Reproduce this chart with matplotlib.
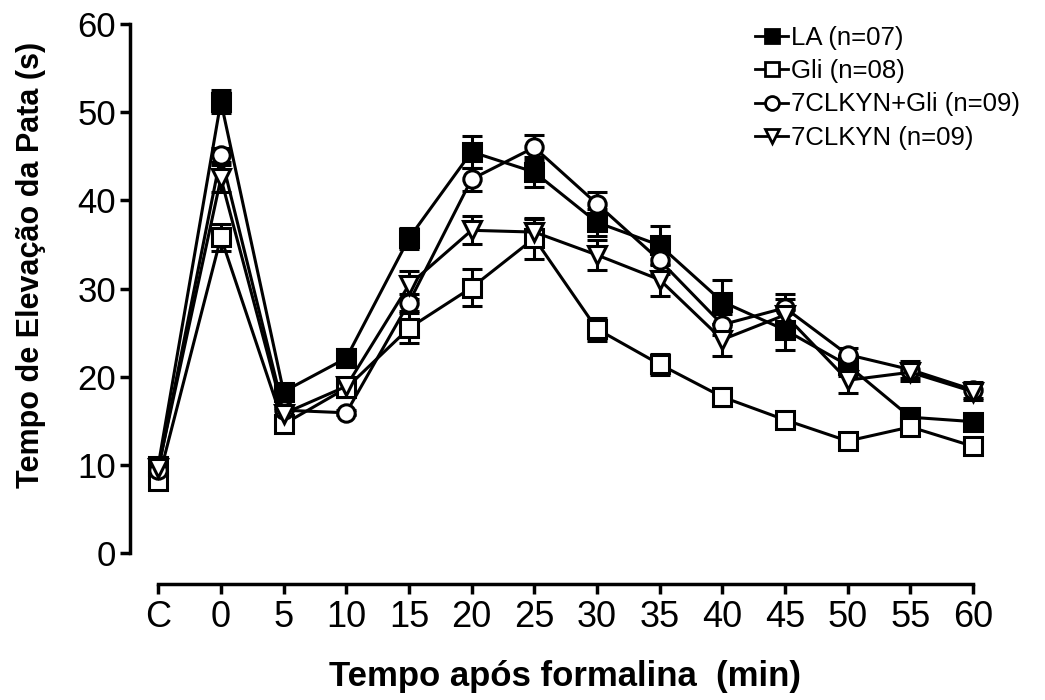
# Tempo de elevação da pata após formalina - 4 grupos, média ± EPM
import matplotlib
matplotlib.use('Agg')
from matplotlib import pyplot as plt
from matplotlib.lines import Line2D

plt.rcParams['font.family'] = ['Liberation Sans', 'DejaVu Sans']

# eixo x: C (controle) e tempos em minutos
tick_labels = ['C', '0', '5', '10', '15', '20', '25', '30', '35', '40', '45', '50', '55', '60']

la_mean = [9.9, 51.2, 18.3, 22.1, 35.7, 45.5, 43.2, 37.5, 34.9, 28.5, 25.3, 21.3, 15.4, 14.9]
la_sem = [0.9, 1.3, 0.8, 1.0, 1.2, 1.8, 1.7, 1.5, 2.2, 2.5, 2.3, 1.2, 0.6, 0.6]

gli_mean = [8.2, 35.8, 14.6, 18.7, 25.5, 30.1, 35.7, 25.4, 21.4, 17.7, 15.1, 12.7, 14.3, 12.1]
gli_sem = [0.7, 1.5, 0.5, 1.0, 1.7, 2.1, 2.3, 1.3, 1.2, 1.0, 0.5, 0.6, 0.8, 0.6]

kyn_gli_mean = [9.4, 45.1, 16.2, 15.9, 28.4, 42.4, 46.0, 39.6, 33.2, 25.9, 27.8, 22.5, 20.8, 18.5]
kyn_gli_sem = [0.6, 0.8, 0.5, 0.3, 1.0, 1.3, 1.4, 1.4, 1.5, 1.2, 1.6, 0.8, 1.0, 0.9]

kyn_mean = [9.6, 42.5, 15.8, 18.9, 30.4, 36.6, 36.4, 33.8, 31.0, 24.2, 27.0, 19.6, 20.5, 18.3]
kyn_sem = [0.6, 1.5, 0.6, 0.8, 1.6, 1.6, 1.5, 1.7, 1.8, 1.8, 1.8, 1.5, 1.0, 1.0]

x = list(range(len(tick_labels)))

fig = plt.figure(figsize=(10.45, 7), dpi=100)
ax = fig.add_axes([130 / 1045, 147 / 700, 870 / 1045, 529 / 700])

series = [
    (la_mean, la_sem, 's', 'black', 'LA (n=07)'),
    (gli_mean, gli_sem, 's', 'white', 'Gli (n=08)'),
    (kyn_gli_mean, kyn_gli_sem, 'o', 'white', '7CLKYN+Gli (n=09)'),
    (kyn_mean, kyn_sem, 'v', 'white', '7CLKYN (n=09)'),
]

handles = []
for mean, sem, mk, fc, lab in series:
    ax.errorbar(x, mean, yerr=sem, color='black', marker=mk, markerfacecolor=fc,
                markeredgecolor='black', markersize=12.5, markeredgewidth=2.2,
                linewidth=2.2, elinewidth=2.2, capsize=7, capthick=2.2,
                clip_on=False)
    handles.append(Line2D([], [], color='black', marker=mk, markerfacecolor=fc,
                          markeredgecolor='black', markersize=10, markeredgewidth=2,
                          linewidth=2, label=lab))

ax.set_xlim(-0.45, 13.43)
ax.set_ylim(0, 60)
ax.set_yticks([0, 10, 20, 30, 40, 50, 60])
ax.set_xticks(x)
ax.set_xticklabels(tick_labels)

for side in ['top', 'right']:
    ax.spines[side].set_visible(False)
ax.spines['left'].set_linewidth(2.5)
ax.spines['bottom'].set_linewidth(2.5)
ax.spines['bottom'].set_position(('outward', 22))
ax.spines['bottom'].set_bounds(0, 13)

ax.tick_params(axis='y', labelsize=25, width=2.5, length=7, pad=3)
ax.tick_params(axis='x', labelsize=26, width=2.5, length=7, pad=5)

ax.set_ylabel('Tempo de Elevação da Pata (s)', fontsize=22, fontweight='bold')
ax.yaxis.set_label_coords(-0.097, 0.545)
ax.set_xlabel('Tempo após formalina  (min)', fontsize=25, fontweight='bold', labelpad=18)

fig.legend(handles=handles, loc='upper left', bbox_to_anchor=(755 / 1045, 1 - 26 / 700),
           frameon=False, fontsize=18.5, handlelength=1.3, handletextpad=0.1,
           labelspacing=0.36, borderpad=0, borderaxespad=0)

plt.savefig('out.png', dpi=100)
